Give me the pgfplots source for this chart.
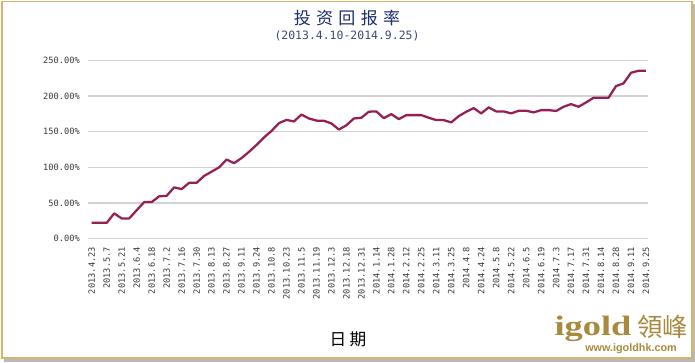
\documentclass[border=0pt]{standalone}
\usepackage{pgfplots}
\pgfplotsset{compat=1.18}
\usepackage{fontspec}
\setmainfont{Liberation Sans}
\newfontfamily\cjk{Noto Sans CJK SC}
\newfontfamily\cjktc{Noto Sans CJK TC}
\newfontfamily\tickfont{DejaVu Sans Mono}
\newfontfamily\logoserif{Liberation Serif}
\definecolor{linec}{HTML}{952056}
\definecolor{gridc}{HTML}{D2D2D2}
\definecolor{titlec}{HTML}{1E2D6E}
\definecolor{subc}{HTML}{3C4A7A}
\definecolor{goldc}{HTML}{D9B36A}
\definecolor{logoc}{HTML}{A88A3E}
\definecolor{tickc}{HTML}{3A3A3A}
\begin{document}
\begin{tikzpicture}
\useasboundingbox (0,0) rectangle (521.25pt,271.5pt);
% frame with shadow (pixel coords: x*0.75pt, (362-y)*0.75pt)
\fill[gray!55] (3pt,0.375pt) rectangle (521.25pt,268.5pt);
\fill[white] (0pt,2.625pt) rectangle (519.375pt,271.5pt);
\draw[goldc, line width=1.3pt] (1.5pt,3pt) rectangle (519pt,270.4pt);
\begin{axis}[
  at={(66pt,92.4pt)}, anchor=south west,
  scale only axis, width=420pt, height=133.9pt,
  xmin=-0.5, xmax=74.27, ymin=0, ymax=250,
  axis line style={draw=none},
  major tick length=0pt,
  ymajorgrids, grid style={gridc, line width=1pt},
  ytick={0,50,100,150,200,250},
  yticklabels={0.00\%,50.00\%,100.00\%,150.00\%,200.00\%,250.00\%},
  yticklabel style={font=\tickfont\fontsize{6.5}{7}\selectfont, text=tickc, inner sep=0pt, anchor=east, xshift=-6pt},
  xtick={0,2,...,74},
  xticklabels={2013.4.23,2013.5.7,2013.5.21,2013.6.4,2013.6.18,2013.7.2,2013.7.16,2013.7.30,2013.8.13,2013.8.27,2013.9.11,2013.9.24,2013.10.8,2013.10.23,2013.11.5,2013.11.19,2013.12.3,2013.12.18,2013.12.31,2014.1.14,2014.1.28,2014.2.12,2014.2.25,2014.3.11,2014.3.25,2014.4.8,2014.4.24,2014.5.8,2014.5.22,2014.6.5,2014.6.19,2014.7.3,2014.7.17,2014.7.31,2014.8.14,2014.8.28,2014.9.11,2014.9.25},
  xticklabel style={font=\tickfont\fontsize{6.5}{7}\selectfont, text=tickc, inner sep=0pt, yshift=-6pt, rotate=90, anchor=east},
  clip=false,
]
\addplot[linec, line width=1.7pt, line join=round] table {
x y
0 22.4
1 22.4
2 22.4
3 35.6
4 28.5
5 28.5
6 40
7 51.4
8 51.4
9 59.5
10 60.2
11 72
12 69.6
13 78.4
14 78.4
15 88
16 94
17 100
18 111
19 106
20 113
21 121.8
22 131.5
23 142
24 151
25 162
26 166.5
27 164.4
28 174
29 168.5
30 165.5
31 165.3
32 161.5
33 153
34 159
35 168.5
36 169.5
37 178
38 178.4
39 169
40 174.6
41 167.6
42 173.2
43 173.2
44 173.2
45 169.5
46 166.2
47 166.2
48 163
49 171.8
50 177.9
51 183
52 175.6
53 184
54 178.4
55 178.4
56 175.6
57 179.3
58 179.3
59 177
60 180.2
61 180.2
62 179
63 184.9
64 188.6
65 184.9
66 191
67 197.5
68 197.5
69 197.5
70 213.9
71 217.6
72 232.5
73 235.3
74 235.3
};
\end{axis}
% titles
\node[text=titlec, font=\cjk\fontsize{12.75}{14}\selectfont] at (260.25pt,258pt) {投\hspace{4pt}资\hspace{4pt}回\hspace{4pt}报\hspace{4pt}率};
\node[text=subc, font=\tickfont\fontsize{8.6}{10}\selectfont] at (260.25pt,244.9pt) {(2013.4.10-2014.9.25)};
\node[text=black, font=\cjk\fontsize{12.5}{14}\selectfont] at (261pt,17.25pt) {日\hspace{2.5pt}期};
% logo
\node[text=logoc, font=\logoserif\bfseries\fontsize{21}{22}\selectfont, xscale=1.3, inner sep=0pt] at (444.75pt,24.75pt) {igold};
\node[text=logoc, font=\cjktc\fontsize{19}{20}\selectfont, inner sep=0pt] at (496.9pt,26.25pt) {領峰};
\node[text=logoc, font=\bfseries\fontsize{8.1}{9}\selectfont, inner sep=0pt] at (473.25pt,9.75pt) {www.igoldhk.com};
\end{tikzpicture}
\end{document}
